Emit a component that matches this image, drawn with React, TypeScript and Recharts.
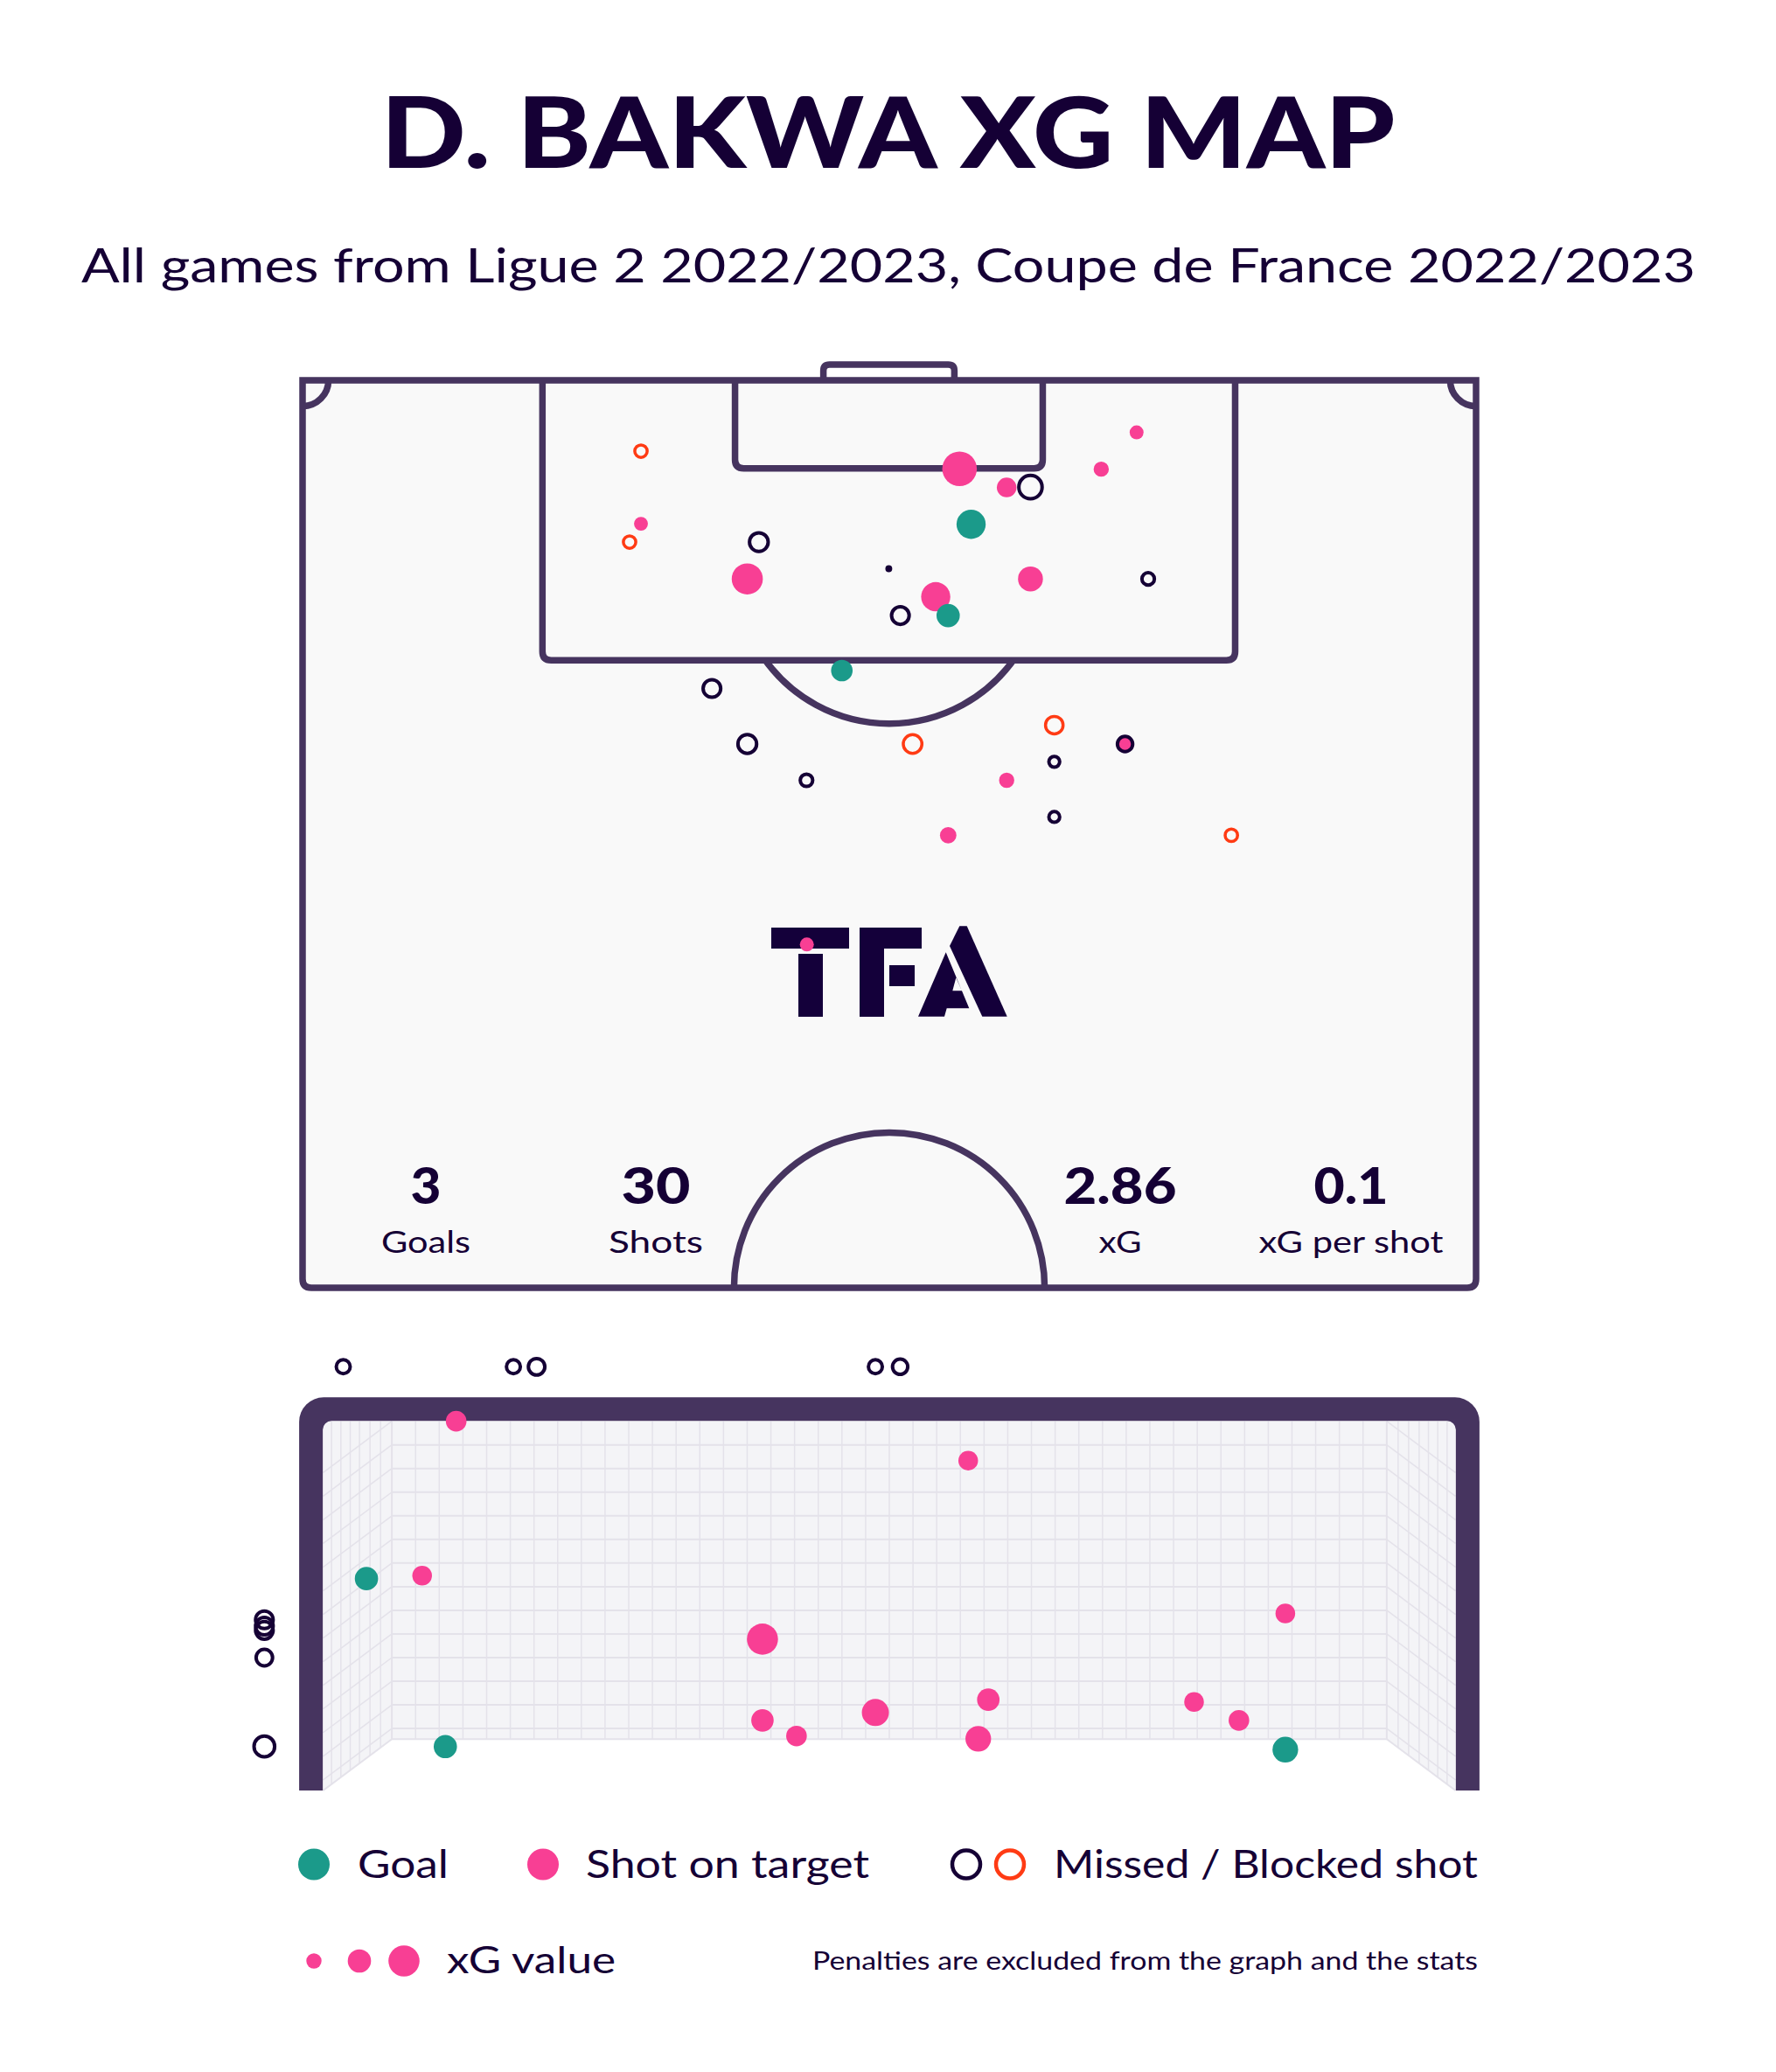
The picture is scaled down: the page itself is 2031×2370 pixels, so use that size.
import { ReferenceArea, Scatter, ScatterChart, XAxis, YAxis, ZAxis } from 'recharts';

const INK = '#150035';
const LINE = '#46345f';
const TEAL = '#1b9a8a';
const PINK = '#f83f94';
const RED = '#ff3b14';
const PITCH = '#f9f9f9';
const NET = '#f4f4f7';
const NET_LINE = '#e4e2ea';
const FONT = 'Lato, "Noto Sans", sans-serif';
const LW = 7.5;

// shots on the pitch: x = metres from left touchline, y = metres from goal line
const pitchGoals = [
  { x: 38.74, y: 8.33, xg: 0.22 },
  { x: 37.41, y: 13.61, xg: 0.14 },
  { x: 31.25, y: 16.79, xg: 0.12 },
];
const pitchOnTarget = [
  { x: 48.33, y: 3.01, xg: 0.05 },
  { x: 38.07, y: 5.12, xg: 0.31 },
  { x: 46.28, y: 5.14, xg: 0.06 },
  { x: 40.8, y: 6.2, xg: 0.1 },
  { x: 19.61, y: 8.3, xg: 0.05 },
  { x: 25.77, y: 11.49, xg: 0.25 },
  { x: 42.18, y: 11.49, xg: 0.16 },
  { x: 36.69, y: 12.52, xg: 0.22 },
  { x: 47.66, y: 21.04, xg: 0.06 },
  { x: 40.8, y: 23.14, xg: 0.06 },
  { x: 37.41, y: 26.32, xg: 0.07 },
];
const pitchMissed = [
  { x: 42.18, y: 6.18, xg: 0.14 },
  { x: 26.44, y: 9.36, xg: 0.09 },
  { x: 33.97, y: 10.9, xg: 0.003 },
  { x: 49.0, y: 11.49, xg: 0.04 },
  { x: 34.64, y: 13.61, xg: 0.08 },
  { x: 23.72, y: 17.83, xg: 0.08 },
  { x: 25.77, y: 21.04, xg: 0.09 },
  { x: 47.66, y: 21.04, xg: 0.06 },
  { x: 43.56, y: 22.07, xg: 0.03 },
  { x: 29.2, y: 23.14, xg: 0.04 },
  { x: 43.56, y: 25.26, xg: 0.03 },
];
const pitchBlocked = [
  { x: 19.61, y: 4.1, xg: 0.04 },
  { x: 18.95, y: 9.36, xg: 0.04 },
  { x: 35.35, y: 21.04, xg: 0.09 },
  { x: 43.56, y: 19.95, xg: 0.08 },
  { x: 53.82, y: 26.32, xg: 0.04 },
];

// shots seen from behind the goal: x = metres from goal centre, y = height in metres
const frameGoals = [
  { x: -3.38, y: 1.4, xg: 0.14 },
  { x: -2.87, y: 0.29, xg: 0.14 },
  { x: 2.56, y: 0.27, xg: 0.17 },
];
const frameOnTarget = [
  { x: -2.8, y: 2.44, xg: 0.11 },
  { x: 0.51, y: 2.18, xg: 0.1 },
  { x: -3.02, y: 1.42, xg: 0.1 },
  { x: 2.56, y: 1.17, xg: 0.1 },
  { x: -0.82, y: 1.0, xg: 0.25 },
  { x: 0.64, y: 0.6, xg: 0.13 },
  { x: 1.97, y: 0.585, xg: 0.1 },
  { x: -0.09, y: 0.515, xg: 0.19 },
  { x: -0.82, y: 0.463, xg: 0.13 },
  { x: 2.26, y: 0.463, xg: 0.11 },
  { x: -0.6, y: 0.36, xg: 0.11 },
  { x: 0.575, y: 0.342, xg: 0.17 },
];
const frameMissed = [
  { x: -3.53, y: 2.8, xg: 0.05 },
  { x: -2.43, y: 2.8, xg: 0.05 },
  { x: -2.28, y: 2.8, xg: 0.07 },
  { x: -0.09, y: 2.8, xg: 0.05 },
  { x: 0.07, y: 2.8, xg: 0.06 },
  { x: -4.04, y: 1.128, xg: 0.08 },
  { x: -4.04, y: 1.086, xg: 0.08 },
  { x: -4.04, y: 1.058, xg: 0.08 },
  { x: -4.04, y: 0.878, xg: 0.07 },
  { x: -4.04, y: 0.291, xg: 0.11 },
];

const statValues = ['3', '30', '2.86', '0.1'];
const statLabels = ['Goals', 'Shots', 'xG', 'xG per shot'];
const legendLabels = ['Goal', 'Shot on target', 'Missed / Blocked shot'];
const xgLegendSizes = [0.06, 0.14, 0.25];

// area of a dot for xG = 1
const XG_AREA = 3974;

const PitchOutline = ({ x, y, width: w, height: h }: any) => {
  const r = 10;
  return (
    <path
      d={`M${x},${y} H${x + w} V${y + h - r} Q${x + w},${y + h} ${x + w - r},${y + h} H${x + r} Q${x},${y + h} ${x},${y + h - r} Z`}
      fill={PITCH}
      stroke={LINE}
      strokeWidth={LW}
    />
  );
};

const HangingBox = ({ x, y, width: w, height: h }: any) => {
  const r = 10;
  return (
    <path
      d={`M${x},${y} V${y + h - r} Q${x},${y + h} ${x + r},${y + h} H${x + w - r} Q${x + w},${y + h} ${x + w},${y + h - r} V${y}`}
      fill="none"
      stroke={LINE}
      strokeWidth={LW}
    />
  );
};

const GoalMouth = ({ x, y, width: w, height: h }: any) => {
  const r = 7;
  return (
    <path
      d={`M${x},${y + h} V${y + r} Q${x},${y} ${x + r},${y} H${x + w - r} Q${x + w},${y} ${x + w},${y + r} V${y + h}`}
      fill="none"
      stroke={LINE}
      strokeWidth={LW}
    />
  );
};

const CentreArc = ({ x, y, width: w, height: h }: any) => (
  <path
    d={`M${x},${y + h} A${w / 2},${w / 2} 0 0 1 ${x + w},${y + h}`}
    fill="none"
    stroke={LINE}
    strokeWidth={LW}
  />
);

const PenaltyArc = ({ x, y, width: w, height: h }: any) => {
  const c = w / 2;
  const r = (c * c + h * h) / (2 * h);
  return (
    <path
      d={`M${x},${y} A${r},${r} 0 0 0 ${x + w},${y}`}
      fill="none"
      stroke={LINE}
      strokeWidth={LW}
    />
  );
};

const CornerLeft = ({ x, y, width: w, height: h }: any) => (
  <path d={`M${x},${y + h} A${w},${h} 0 0 0 ${x + w},${y}`} fill="none" stroke={LINE} strokeWidth={LW} />
);

const CornerRight = ({ x, y, width: w, height: h }: any) => (
  <path d={`M${x},${y} A${w},${h} 0 0 0 ${x + w},${y + h}`} fill="none" stroke={LINE} strokeWidth={LW} />
);

const GoalFrame = ({ x, y, width: w, height: h }: any) => {
  const t = (w * 27) / 1348;
  const R = 28;
  const r = 10;
  const d = [
    `M${x},${y + h} V${y + R} A${R},${R} 0 0 1 ${x + R},${y}`,
    `H${x + w - R} A${R},${R} 0 0 1 ${x + w},${y + R} V${y + h}`,
    `H${x + w - t} V${y + t + r} A${r},${r} 0 0 0 ${x + w - t - r},${y + t}`,
    `H${x + t + r} A${r},${r} 0 0 0 ${x + t},${y + t + r} V${y + h} Z`,
  ].join(' ');
  return <path d={d} fill={LINE} />;
};

const NetShape = ({ x, y, width: w, height: h }: any) => {
  const inset = w * 0.0607;
  const depth = h * 0.861;
  const bx0 = x + inset;
  const bx1 = x + w - inset;
  const by1 = y + depth;
  const gy = y + h;
  const drop = gy - by1;
  const rowStep = depth / 13.45;
  const rows = Array.from({ length: 13 }, (_, k) => y + rowStep * (k + 1));
  const colStep = (bx1 - bx0) / 42;
  const cols = Array.from({ length: 41 }, (_, k) => bx0 + colStep * (k + 1));
  const sideFrac = [0.122, 0.258, 0.394, 0.529, 0.682, 0.835];
  const lines: any[] = [];
  rows.forEach((ry, i) => {
    lines.push(<line key={`h${i}`} x1={bx0} y1={ry} x2={bx1} y2={ry} strokeWidth={2} />);
  });
  cols.forEach((cx, i) => {
    lines.push(<line key={`v${i}`} x1={cx} y1={y} x2={cx} y2={by1} strokeWidth={1.5} />);
  });
  [y, ...rows].forEach((ry, i) => {
    lines.push(<line key={`dl${i}`} x1={bx0} y1={ry} x2={x} y2={ry + drop} strokeWidth={1.5} />);
    lines.push(<line key={`dr${i}`} x1={bx1} y1={ry} x2={x + w} y2={ry + drop} strokeWidth={1.5} />);
  });
  sideFrac.forEach((f, i) => {
    const off = inset * f;
    const yb = by1 + (inset - off) * (drop / inset);
    lines.push(<line key={`sl${i}`} x1={x + off} y1={y} x2={x + off} y2={yb} strokeWidth={1.5} />);
    lines.push(<line key={`sr${i}`} x1={x + w - off} y1={y} x2={x + w - off} y2={yb} strokeWidth={1.5} />);
  });
  return (
    <g>
      <path d={`M${x},${y} H${x + w} V${gy} L${bx1},${by1} H${bx0} L${x},${gy} Z`} fill={NET} />
      <g stroke={NET_LINE}>{lines}</g>
      <line x1={bx0} y1={y} x2={bx0} y2={by1} stroke={NET_LINE} strokeWidth={2} />
      <line x1={bx1} y1={y} x2={bx1} y2={by1} stroke={NET_LINE} strokeWidth={2} />
      <line x1={bx0} y1={by1} x2={bx1} y2={by1} stroke={NET_LINE} strokeWidth={2} />
      <line x1={bx0} y1={by1} x2={x} y2={gy} stroke={NET_LINE} strokeWidth={2} />
      <line x1={bx1} y1={by1} x2={x + w} y2={gy} stroke={NET_LINE} strokeWidth={2} />
    </g>
  );
};

const PitchChart = () => (
  <ScatterChart width={1442} height={1138} margin={{ top: 50, right: 50, bottom: 50, left: 50 }}>
    <XAxis type="number" dataKey="x" domain={[0, 68]} allowDataOverflow hide />
    <YAxis type="number" dataKey="y" domain={[0, 52.5]} allowDataOverflow reversed hide />
    <ZAxis type="number" dataKey="xg" domain={[0, 1]} range={[0, XG_AREA]} />
    <ReferenceArea x1={0} x2={68} y1={0} y2={52.5} ifOverflow="visible" shape={PitchOutline} />
    <ReferenceArea x1={30.18} x2={37.77} y1={-0.91} y2={0} ifOverflow="visible" shape={GoalMouth} />
    <ReferenceArea x1={13.9} x2={54.04} y1={0} y2={16.2} ifOverflow="visible" shape={HangingBox} />
    <ReferenceArea x1={25.06} x2={42.89} y1={0} y2={5.1} ifOverflow="visible" shape={HangingBox} />
    <ReferenceArea x1={26.82} x2={41.18} y1={16.2} y2={19.86} ifOverflow="visible" shape={PenaltyArc} />
    <ReferenceArea x1={25} x2={43} y1={43.5} y2={52.5} ifOverflow="visible" shape={CentreArc} />
    <ReferenceArea x1={0} x2={1.5} y1={0} y2={1.5} ifOverflow="visible" shape={CornerLeft} />
    <ReferenceArea x1={66.5} x2={68} y1={0} y2={1.5} ifOverflow="visible" shape={CornerRight} />
    <Scatter data={pitchOnTarget} fill={PINK} isAnimationActive={false} />
    <Scatter data={pitchMissed} fill="none" stroke={INK} strokeWidth={4} isAnimationActive={false} />
    <Scatter data={pitchBlocked} fill="none" stroke={RED} strokeWidth={3.5} isAnimationActive={false} />
    <Scatter data={pitchGoals} fill={TEAL} isAnimationActive={false} />
  </ScatterChart>
);

const GoalChart = () => (
  <ScatterChart width={1586} height={602} margin={{ top: 50, right: 50, bottom: 50, left: 50 }}>
    <XAxis type="number" dataKey="x" domain={[-4.2, 4.2]} allowDataOverflow hide />
    <YAxis type="number" dataKey="y" domain={[0, 2.9]} allowDataOverflow hide />
    <ZAxis type="number" dataKey="xg" domain={[0, 1]} range={[0, XG_AREA]} />
    <ReferenceArea x1={-3.66} x2={3.66} y1={0} y2={2.44} ifOverflow="visible" shape={NetShape} />
    <ReferenceArea x1={-3.815} x2={3.815} y1={0} y2={2.598} ifOverflow="visible" shape={GoalFrame} />
    <Scatter data={frameOnTarget} fill={PINK} isAnimationActive={false} />
    <Scatter data={frameMissed} fill="none" stroke={INK} strokeWidth={4} isAnimationActive={false} />
    <Scatter data={frameGoals} fill={TEAL} isAnimationActive={false} />
  </ScatterChart>
);

const statX = [487, 750, 1281, 1545];
const statValueW = [35, 79, 129, 85];
const statLabelW = [102, 108, 49, 211];

const Overlay = () => (
  <svg
    width={2031}
    height={2370}
    style={{ position: 'absolute', left: 0, top: 0, pointerEvents: 'none' }}
    fontFamily={FONT}
    fill={INK}
  >
    <text x={1015.5} y={192} textAnchor="middle" fontSize={112} fontWeight={900} textLength={1160} lengthAdjust="spacingAndGlyphs">
      D. BAKWA XG MAP
    </text>
    <text x={1016} y={323} textAnchor="middle" fontSize={55} textLength={1846} lengthAdjust="spacingAndGlyphs">
      All games from Ligue 2 2022/2023, Coupe de France 2022/2023
    </text>

    {/* logo */}
    <g transform="translate(860,1040)" fill="#14003a">
      <rect x={22} y={21} width={89} height={24} />
      <rect x={53} y={51} width={28} height={72} />
      <rect x={123} y={21} width={28} height={102} />
      <rect x={123} y={21} width={71} height={24} />
      <rect x={157} y={64} width={29} height={24} />
      <path
        fillRule="evenodd"
        d="M190,122.7 L221.7,49.3 L248.3,113.3 L222.7,113.3 L220,122.7 Z M229.3,93.3 L233.3,78.3 L240,93.3 Z"
      />
      <path d="M226,42 L237.3,19.3 L245.7,19.3 L291.7,122.7 L263.3,122.7 Z" />
      <circle cx={62.7} cy={40.3} r={8} fill={PINK} />
    </g>

    {statValues.map((v, i) => (
      <text key={v} x={statX[i]} y={1377} textAnchor="middle" fontSize={58} fontWeight={900} textLength={statValueW[i]} lengthAdjust="spacingAndGlyphs">
        {v}
      </text>
    ))}
    {statLabels.map((l, i) => (
      <text key={l} x={statX[i]} y={1433} textAnchor="middle" fontSize={35} textLength={statLabelW[i]} lengthAdjust="spacingAndGlyphs">
        {l}
      </text>
    ))}

    {/* legend */}
    <circle cx={359} cy={2132.5} r={18} fill={TEAL} />
    <text x={409} y={2148} fontSize={44} textLength={104} lengthAdjust="spacingAndGlyphs">
      {legendLabels[0]}
    </text>
    <circle cx={621} cy={2132.5} r={18} fill={PINK} />
    <text x={670} y={2148} fontSize={44} textLength={324} lengthAdjust="spacingAndGlyphs">
      {legendLabels[1]}
    </text>
    <circle cx={1105} cy={2132.5} r={16} fill="none" stroke={INK} strokeWidth={4.5} />
    <circle cx={1155} cy={2132.5} r={16} fill="none" stroke={RED} strokeWidth={4.5} />
    <text x={1205} y={2148} fontSize={44} textLength={485} lengthAdjust="spacingAndGlyphs">
      {legendLabels[2]}
    </text>

    {xgLegendSizes.map((s, i) => (
      <circle key={s} cx={[359, 411, 462][i]} cy={2243} r={Math.sqrt((XG_AREA * s) / Math.PI)} fill={PINK} />
    ))}
    <text x={511} y={2257} fontSize={42} textLength={193} lengthAdjust="spacingAndGlyphs">
      xG value
    </text>
    <text x={1690} y={2253} textAnchor="end" fontSize={29} textLength={761} lengthAdjust="spacingAndGlyphs">
      Penalties are excluded from the graph and the stats
    </text>
  </svg>
);

export default function App() {
  return (
    <div
      style={{
        position: 'absolute',
        left: 0,
        top: 0,
        width: 2031,
        height: 2370,
        background: '#ffffff',
        overflow: 'hidden',
      }}
    >
      <div style={{ position: 'absolute', left: 296, top: 385 }}>
        <PitchChart />
      </div>
      <div style={{ position: 'absolute', left: 224, top: 1496 }}>
        <GoalChart />
      </div>
      <Overlay />
    </div>
  );
}
